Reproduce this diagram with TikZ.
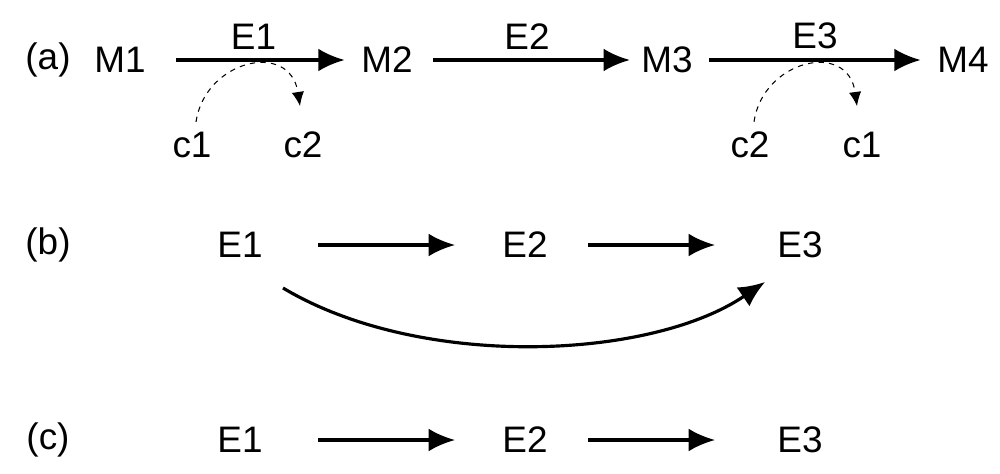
\documentclass[tikz,border=0pt]{standalone}
\usepackage{fontspec}
\setmainfont{Liberation Sans}
\usetikzlibrary{positioning, arrows.meta, calc}
\begin{document}
\begin{tikzpicture}[x=0.02cm, y=-0.02cm,
				every node/.style = {font=\fontsize{21}{25}\selectfont},
				link/.style = {line width=1.8pt, -{Latex[length=15pt, width=13pt]}},
				hop/.style = {semithick, dashed, -{Latex[length=8pt, width=7pt]}},
			]
			\useasboundingbox (0,0) rectangle (1000,473);
			% (a)
			\node(la) at (48,60){(a)};
			\node(M1) at (120,60){M1};
			\node(M2) at (387,60){M2};
			\node(M3) at (667,60){M3};
			\node(M4) at (963,60){M4};
			\draw[link, shorten <=14pt, shorten >=6pt](M1)--node[above=2pt] {E1}(M2);
			\draw[link, shorten <=8pt, shorten >=3pt](M2)--node[above=2pt] {E2}(M3);
			\draw[link, shorten <=6pt, shorten >=6pt](M3)--node[above=2pt] {E3}(M4);
			\node(c1a) at (192,145){c1};
			\node(c2a) at (303,145){c2};
			\node(c2b) at (750,145){c2};
			\node(c1b) at (862,145){c1};
			\coordinate(ta) at (300,106);
			\coordinate(tb) at (857,106);
			\draw[hop](c1a.north) ++(4,-4) .. controls (205,60) and (290,40) .. (ta);
			\draw[hop](c2b.north) ++(4,-4) .. controls (763,60) and (848,40) .. (tb);
			% (b)
			\node(lb) at (48,245){(b)};
			\node(B1) at (240,245){E1};
			\node(B2) at (525,245){E2};
			\node(B3) at (800,245){E3};
			\draw[link](B1)++(78,0)--($(B2)+(-70,0)$);
			\draw[link](B2)++(63,0)--($(B3)+(-85,0)$);
			\draw[link](B1)++(43,43) .. controls (420,370) and (650,360) .. (765,282);
			% (c)
			\node(lc) at (48,440){(c)};
			\node(C1) at (240,440){E1};
			\node(C2) at (525,440){E2};
			\node(C3) at (800,440){E3};
			\draw[link](C1)++(78,0)--($(C2)+(-70,0)$);
			\draw[link](C2)++(63,0)--($(C3)+(-85,0)$);
		\end{tikzpicture}
\end{document}
